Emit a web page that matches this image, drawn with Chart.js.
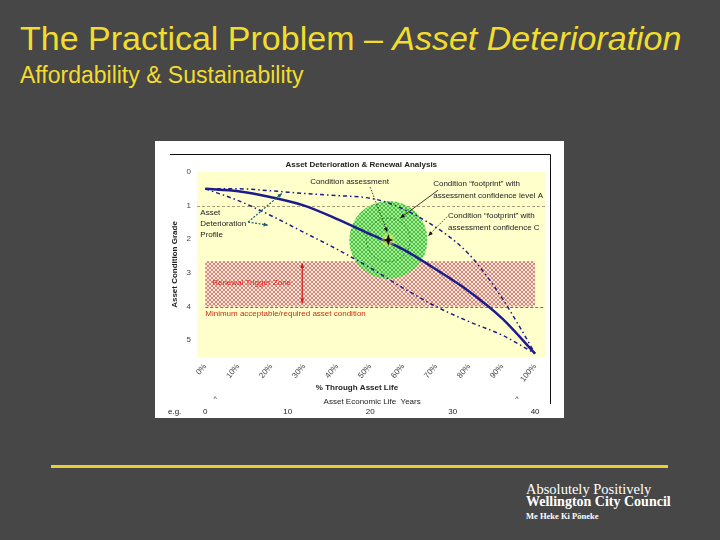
<!DOCTYPE html>
<html><head><meta charset="utf-8">
<script src="https://cdn.jsdelivr.net/npm/chart.js@4.4.1/dist/chart.umd.min.js"></script>
<style>
html,body{margin:0;padding:0;}
body{width:720px;height:540px;background:#474747;position:relative;overflow:hidden;font-family:"Liberation Sans",Arial,sans-serif;}
.title{position:absolute;left:20px;top:21px;font-size:34px;line-height:34px;color:#f2dc2e;white-space:nowrap;}
.sub{position:absolute;left:20px;top:64px;font-size:23px;line-height:23px;color:#f2dc2e;white-space:nowrap;}
#box{position:absolute;left:155px;top:141px;width:409px;height:277px;background:#fff;}
.rule{position:absolute;left:51px;top:465px;width:617px;height:3px;background:#e8cf3a;}
.logo{position:absolute;left:526px;color:#fff;font-family:"Liberation Serif",serif;white-space:nowrap;}
</style>
</head><body>
<div class="title">The Practical Problem – <i>Asset Deterioration</i></div>
<div class="sub">Affordability &amp; Sustainability</div>
<div id="box"><canvas id="c" width="409" height="277"></canvas></div>
<div class="rule"></div>
<div class="logo" style="top:482px;font-size:14.5px;line-height:14.5px;">Absolutely Positively</div>
<div class="logo" style="top:495px;font-size:14px;line-height:14px;font-weight:bold;">Wellington City Council</div>
<div class="logo" style="top:512px;font-size:8.5px;line-height:8.5px;font-weight:bold;">Me Heke Ki Pōneke</div>
<script>
// % through asset life vs condition grade (0 = new, 5 = failed)
const lifePct=[0,10,20,30,40,50,60,70,80,90,100];
const profileGrade=[0.5,0.57,0.75,1.0,1.4,1.85,2.3,2.9,3.55,4.35,5.4];
const lowerGrade=[0.5,0.85,1.3,1.8,2.3,2.85,3.45,4.0,4.45,4.85,5.4];
const upperPct=[0,10,20,30,40,50,55,60,65,70,75,80,85,90,95,100];
const upperGrade=[0.5,0.5,0.56,0.64,0.7,0.78,0.9,1.1,1.35,1.65,2.0,2.45,3.05,3.75,4.55,5.4];
const gradeTicks=[0,1,2,3,4,5];
const pctTicks=[0,10,20,30,40,50,60,70,80,90,100];
const yearTicks=[0,10,20,30,40];
const triggerZone=[2.65,4.0];
const refGrade=1, minGrade=4;
const footprint=[55.5,2.02];      // pct, grade
const footprintR=[1.16,0.65];     // confidence C, A (grade units)

const FONT='"Liberation Sans", Arial, sans-serif';
const INK='#222';
const NAVY='#1c1c8c';

function pts(xs,ys){return xs.map((v,i)=>({x:v,y:ys[i]}));}
function checker(ctx,a,b){
  const c=document.createElement('canvas');c.width=c.height=4;
  const g=c.getContext('2d');
  g.fillStyle=b;g.fillRect(0,0,4,4);
  g.fillStyle=a;g.fillRect(0,0,2,2);g.fillRect(2,2,2,2);
  return ctx.createPattern(c,'repeat');
}
function arrow(ctx,x1,y1,x2,y2,color,dash,w,both){
  ctx.save();
  ctx.strokeStyle=color;ctx.fillStyle=color;ctx.lineWidth=w||0.8;
  ctx.setLineDash(dash||[]);
  ctx.beginPath();ctx.moveTo(x1,y1);ctx.lineTo(x2,y2);ctx.stroke();
  ctx.setLineDash([]);
  const head=(px,py,ang)=>{
    ctx.beginPath();ctx.moveTo(px,py);
    ctx.lineTo(px-5*Math.cos(ang-0.4),py-5*Math.sin(ang-0.4));
    ctx.lineTo(px-5*Math.cos(ang+0.4),py-5*Math.sin(ang+0.4));
    ctx.closePath();ctx.fill();
  };
  const ang=Math.atan2(y2-y1,x2-x1);
  head(x2,y2,ang);
  if(both) head(x1,y1,ang+Math.PI);
  ctx.restore();
}

const decor={
  id:'decor',
  beforeDraw(ch){
    const {ctx,chartArea:a,scales:{x,y}}=ch;
    ctx.save();
    ctx.fillStyle='#ffffcc';
    ctx.fillRect(a.left,a.top,a.right-a.left,a.bottom-a.top);
    const zl=x.getPixelForValue(0),zr=x.getPixelForValue(100);
    const zt=y.getPixelForValue(triggerZone[0]),zb=y.getPixelForValue(triggerZone[1]);
    ctx.fillStyle=checker(ctx,'#db8478','#fbe8d8');
    ctx.fillRect(zl,zt,zr-zl,zb-zt);
    ctx.lineWidth=1;ctx.setLineDash([3,2]);
    ctx.strokeStyle='#a89a78';
    let yy=Math.round(y.getPixelForValue(refGrade))+0.5;
    ctx.beginPath();ctx.moveTo(a.left,yy);ctx.lineTo(a.right,yy);ctx.stroke();
    ctx.strokeStyle='#c05040';
    yy=Math.round(y.getPixelForValue(minGrade))+0.5;
    ctx.beginPath();ctx.moveTo(zl,yy);ctx.lineTo(a.right,yy);ctx.stroke();
    ctx.restore();
  },
  beforeDatasetsDraw(ch){
    const {ctx,scales:{x,y}}=ch;
    const cx=x.getPixelForValue(footprint[0]),cy=y.getPixelForValue(footprint[1]);
    const rO=Math.abs(y.getPixelForValue(footprint[1]+footprintR[0])-cy);
    const rI=Math.abs(y.getPixelForValue(footprint[1]+footprintR[1])-cy);
    ctx.save();
    ctx.fillStyle=checker(ctx,'#4cbf44','#a4ee94');
    ctx.beginPath();ctx.arc(cx,cy,rO,0,Math.PI*2);ctx.fill();
    ctx.strokeStyle='#2d7a2a';ctx.lineWidth=0.8;ctx.setLineDash([2,2]);
    ctx.beginPath();ctx.arc(cx,cy,rI,0,Math.PI*2);ctx.stroke();
    ctx.restore();
  },
  afterDatasetsDraw(ch){
    const {ctx,chartArea:a,scales:{x,y}}=ch;
    const X=v=>x.getPixelForValue(v),Y=v=>y.getPixelForValue(v);
    const txt=(s,px,py,o={})=>{
      ctx.font=(o.bold?'bold ':'')+(o.size||8)+'px '+FONT;
      ctx.fillStyle=o.color||INK;
      ctx.textAlign=o.align||'left';ctx.textBaseline='middle';
      ctx.fillText(s,px,py);
    };
    ctx.save();
    // footprint centre
    const cx=X(footprint[0]),cy=Y(footprint[1]);
    const gl=ctx.createRadialGradient(cx,cy,0,cx,cy,8);
    gl.addColorStop(0,'rgba(255,255,90,1)');gl.addColorStop(1,'rgba(255,255,90,0)');
    ctx.fillStyle=gl;ctx.beginPath();ctx.arc(cx,cy,8,0,Math.PI*2);ctx.fill();
    ctx.fillStyle='#111';ctx.beginPath();
    ctx.moveTo(cx,cy-6);ctx.lineTo(cx+1.5,cy-1.5);ctx.lineTo(cx+5,cy);ctx.lineTo(cx+1.5,cy+1.5);
    ctx.lineTo(cx,cy+6);ctx.lineTo(cx-1.5,cy+1.5);ctx.lineTo(cx-5,cy);ctx.lineTo(cx-1.5,cy-1.5);
    ctx.closePath();ctx.fill();

    // titles
    txt('Asset Deterioration & Renewal Analysis',X(47.3),Y(-0.21),{bold:true,align:'center'});
    txt('% Through Asset Life',X(46),Y(6.42),{bold:true,align:'center'});
    txt('Asset Economic Life  Years',X(50.6),Y(6.83),{align:'center'});
    txt('^',X(3),Y(6.75),{align:'center',size:7});
    txt('^',X(94.5),Y(6.75),{align:'center',size:7});
    txt('e.g.',a.left-29,Y(7.12),{});
    yearTicks.forEach(v=>txt(String(v),X(v/40*100),Y(7.12),{align:'center'}));
    ctx.save();
    ctx.translate(a.left-22,Y(2.75));ctx.rotate(-Math.PI/2);
    txt('Asset Condition Grade',0,0,{bold:true,align:'center'});
    ctx.restore();

    // annotations
    txt('Condition assessment',X(31.8),Y(0.3));
    arrow(ctx,X(50),Y(0.45),X(55.2),Y(1.79),'#111',[1.5,1.5]);
    txt('Condition “footprint” with',X(69.1),Y(0.36));
    txt('assessment confidence level A',X(69.1),Y(0.71));
    arrow(ctx,X(70.6),Y(0.54),X(59.1),Y(1.37),'#111');
    txt('Condition “footprint” with',X(73.6),Y(1.31));
    txt('assessment confidence C',X(73.6),Y(1.67));
    arrow(ctx,X(73.3),Y(1.33),X(67.6),Y(1.9),'#111',[1.5,1.5]);
    txt('Asset',X(-1.5),Y(1.22));
    txt('Deterioration',X(-1.5),Y(1.55));
    txt('Profile',X(-1.5),Y(1.88));
    arrow(ctx,X(13),Y(1.49),X(23.3),Y(0.63),'#1f5f6f',[2,1.5],1.2);
    arrow(ctx,X(13),Y(1.49),X(19.1),Y(1.58),'#1f5f6f',[2,1.5],1.2);
    txt('Renewal Trigger Zone',X(2.1),Y(3.3),{color:'#e02020'});
    arrow(ctx,X(29.4),Y(2.72),X(29.4),Y(3.9),'#d01818',[],1.2,true);
    txt('Minimum acceptable/required asset condition',X(0),Y(4.22),{color:'#c83010'});

    // frame
    ctx.strokeStyle='#111';ctx.lineWidth=1;
    const ft=Math.round(Y(-0.54))+0.5,fr=Math.round(X(104.5))+0.5;
    ctx.beginPath();ctx.moveTo(15,ft);ctx.lineTo(fr,ft);ctx.lineTo(fr,Y(6.9));ctx.stroke();
    ctx.restore();
  }
};

new Chart(document.getElementById('c'),{
  type:'line',
  data:{datasets:[
    {label:'Asset deterioration profile',data:pts(lifePct,profileGrade),borderColor:NAVY,borderWidth:2.5,pointRadius:0,cubicInterpolationMode:'monotone'},
    {label:'Upper bound',data:pts(upperPct,upperGrade),borderColor:NAVY,borderWidth:1.5,borderDash:[4,3,1.5,3],pointRadius:0,cubicInterpolationMode:'monotone'},
    {label:'Lower bound',data:pts(lifePct,lowerGrade),borderColor:NAVY,borderWidth:1.5,borderDash:[4,3,1.5,3],pointRadius:0,cubicInterpolationMode:'monotone'}
  ]},
  options:{
    responsive:false,animation:false,
    layout:{padding:{left:22,top:31,right:19,bottom:21}},
    plugins:{legend:{display:false},tooltip:{enabled:false}},
    scales:{
      x:{type:'linear',min:-2.5,max:103,
        afterBuildTicks:s=>{s.ticks=pctTicks.map(v=>({value:v}));},
        afterFit:s=>{s.height=40;},
        grid:{display:false,drawTicks:false},border:{display:false},
        ticks:{callback:v=>v+'%',minRotation:50,maxRotation:50,padding:5,color:'#444',font:{family:FONT,size:8}}},
      y:{type:'linear',reverse:true,min:0,max:5.5,
        afterBuildTicks:s=>{s.ticks=gradeTicks.map(v=>({value:v}));},
        afterFit:s=>{s.width=20;},
        grid:{display:false,drawTicks:false},border:{display:false},
        ticks:{padding:6,color:'#444',font:{family:FONT,size:8}}}
    }
  },
  plugins:[decor]
});
</script>
</body></html>
